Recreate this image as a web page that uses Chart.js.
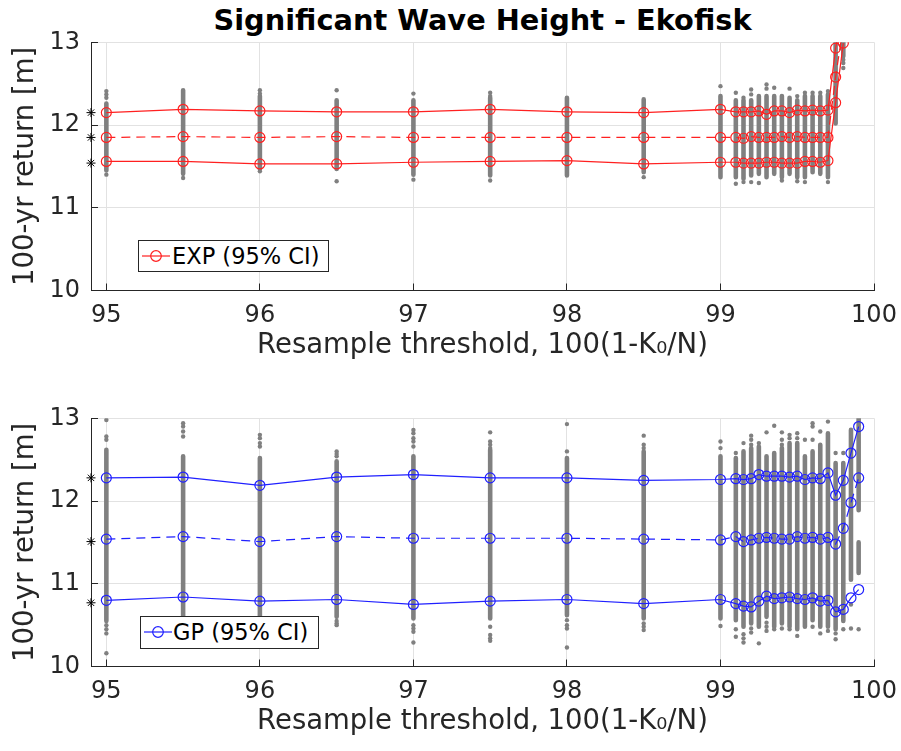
<!DOCTYPE html>
<html><head><meta charset="utf-8">
<script src="https://cdn.jsdelivr.net/npm/chart.js@4/dist/chart.umd.min.js"></script>
<style>
html,body{margin:0;padding:0;background:#fff;overflow:hidden;}
#wrap{position:relative;width:901px;height:751px;font-family:"DejaVu Sans";}
canvas{position:absolute;left:0;}
#title{position:absolute;left:0;top:6px;width:965px;text-align:center;font:bold 28.8px/28px "DejaVu Sans";color:#000;white-space:nowrap;}
.legend{position:absolute;box-sizing:border-box;background:#fff;border:1px solid #262626;}
.legend svg{position:absolute;left:2px;top:0;}
.legend span{position:absolute;top:0;font:22.5px/30px "DejaVu Sans";color:#000;white-space:nowrap;}
</style></head>
<body><div id="wrap">
<div id="title">Significant Wave Height - Ekofisk</div>
<canvas id="c1" width="901" height="376" style="top:0"></canvas>
<canvas id="c2" width="901" height="375" style="top:376px"></canvas>
<div class="legend" style="left:138px;top:240px;width:191px;height:32px;">
<svg width="30" height="30"><line x1="1" y1="15" x2="29" y2="15" stroke="#ff2020" stroke-width="1.2"/><circle cx="15" cy="15" r="5.3" fill="none" stroke="#ff2020" stroke-width="1.2"/></svg>
<span style="left:33px">EXP (95% CI)</span></div>
<div class="legend" style="left:140px;top:616px;width:179px;height:33px;">
<svg width="30" height="30"><line x1="1" y1="15" x2="29" y2="15" stroke="#2020ff" stroke-width="1.2"/><circle cx="15" cy="15" r="5.3" fill="none" stroke="#2020ff" stroke-width="1.2"/></svg>
<span style="left:32px">GP (95% CI)</span></div>
</div>
<script>
// ---- tick labels ----
const xTicks = [95, 96, 97, 98, 99, 100];
const yTicks = [10, 11, 12, 13];

// ---- EXP (top panel) ----
const xExp = [95,95.5,96,96.5,97,97.5,98,98.5,99,99.1,99.15,99.2,99.25,99.3,99.35,99.4,99.45,99.5,99.55,99.6,99.65,99.7,99.75,99.8];
const expUpper = [12.15,12.19,12.17,12.16,12.16,12.19,12.16,12.15,12.19,12.16,12.16,12.16,12.17,12.13,12.17,12.17,12.15,12.18,12.17,12.18,12.17,12.18,12.93,13.4];
const expMid   = [11.85,11.86,11.85,11.86,11.85,11.85,11.85,11.85,11.85,11.85,11.84,11.86,11.85,11.85,11.85,11.86,11.85,11.86,11.85,11.85,11.85,11.85,12.58,13.2];
const expLower = [11.56,11.56,11.53,11.53,11.55,11.56,11.57,11.53,11.55,11.55,11.54,11.54,11.54,11.55,11.55,11.54,11.54,11.54,11.56,11.56,11.55,11.57,12.27,12.99];
const expRef = [12.15, 11.85, 11.54];
const expSpread = [[[11.45,12.26]],[[11.41,12.42]],[[11.47,12.35]],[[11.47,12.30]],[[11.40,12.30]],[[11.39,12.33]],[[11.39,12.33]],[[11.43,12.31]],[[11.37,12.35]],
  [[11.37,12.30]],[[11.35,12.30]],[[11.39,12.30]],[[11.41,12.35]],[[11.37,12.35]],[[11.41,12.35]],[[11.37,12.35]],[[11.41,12.33]],[[11.37,12.30]],[[11.37,12.35]],[[11.43,12.35]],[[11.41,12.35]],[[11.37,12.37]],[[12.02,13.0]],[[12.83,13.0]]];
const expOutliers = [[12.41,12.37,12.33,11.40],[11.36],[12.42,12.38,11.44],[12.42,11.32],[12.38,11.34],[12.39,12.35,11.33],[],[11.37],[12.47],
  [12.39,11.29],[12.33,11.31],[12.43,12.37,11.31],[11.30],[12.49,12.44],[12.45],[11.33],[12.44],[12.35,11.32],[12.39,11.31],[12.39],[12.39],[12.41,11.31],[],[12.79,12.75,12.69]];

// ---- GP (bottom panel) ----
const xGp = [95,95.5,96,96.5,97,97.5,98,98.5,99,99.1,99.15,99.2,99.25,99.3,99.35,99.4,99.45,99.5,99.55,99.6,99.65,99.7,99.75,99.8,99.85,99.9];
const gpUpper = [12.28,12.29,12.19,12.29,12.32,12.28,12.28,12.25,12.26,12.27,12.26,12.27,12.32,12.30,12.30,12.30,12.29,12.30,12.26,12.28,12.27,12.34,12.07,12.25,12.58,12.90];
const gpMid   = [11.54,11.57,11.51,11.57,11.55,11.55,11.55,11.54,11.53,11.57,11.51,11.53,11.55,11.56,11.55,11.54,11.54,11.57,11.55,11.56,11.54,11.56,11.48,11.67,11.98,12.28];
const gpLower = [10.80,10.84,10.79,10.81,10.75,10.79,10.81,10.76,10.81,10.76,10.73,10.72,10.79,10.85,10.82,10.83,10.84,10.82,10.81,10.83,10.79,10.80,10.66,10.69,10.83,10.93];
const gpRef = [12.28, 11.51, 10.77];
const gpSpread = [[[10.55,12.62]],[[10.50,12.54]],[[10.50,12.52]],[[10.60,12.48]],[[10.58,12.54]],[[10.58,12.62]],[[10.62,12.52]],[[10.58,12.60]],[[10.58,12.54]],
  [[10.56,12.52]],[[10.48,12.60]],[[10.52,12.64]],[[10.48,12.66]],[[10.60,12.54]],[[10.48,12.58]],[[10.52,12.64]],[[10.48,12.70]],[[10.45,12.70]],[[10.48,12.54]],[[10.56,12.60]],[[10.48,12.68]],[[10.48,12.82]],
  [[10.45,12.46]],[[10.55,12.46]],[[11.05,12.86]],[[11.89,13.0],[11.13,11.50]]];
const gpOutliers = [[12.98,12.78,12.74,10.50,10.45,10.40,10.16],[12.94,12.90,12.84,12.78],[12.80,12.76,12.70,12.66],[12.60,12.57,12.54,10.55,10.52,10.50],
  [12.86,12.82,12.76,12.72,12.66,10.50,10.46,10.42,10.29],[12.83,12.72,12.68,12.64,10.48,10.38,10.34,10.31],[12.93,12.60,10.56,10.50,10.46,10.23],[12.79,12.68,12.64,10.52,10.48,10.44],[12.72,12.64,10.49],
  [12.58,10.45,10.36],[12.70,10.39,10.34,10.29],[12.79,12.74,12.68,10.46,10.41],[12.70,10.28],[12.83,10.53,10.48,10.43],[12.91,10.45],[12.83,12.74,12.68,10.46],[12.80,12.76,10.45],[12.82,12.76,10.37],[12.74],[12.94,12.90,12.74,10.48],[12.84,10.40],[12.96,10.43],
  [12.58,10.40,10.33],[12.58,10.45],[10.46,10.75],[10.45]];

const X_MIN = 94.9, X_MAX = 100, Y_MIN = 10, Y_MAX = 13;
const FONT = 'DejaVu Sans';
const AXC = '#262626';
const GRAY = '#808080';
const TICK_IN = 7;

function pts(xs, ys){ return xs.map((x,i)=>({x, y: ys[i]})); }
function spreadPts(xs, spreads){ const d=[]; xs.forEach((x,i)=>spreads[i].forEach(([lo,hi])=>{ d.push({x,y:lo},{x,y:hi},{x,y:null}); })); return d; }
function outPts(xs, outs){ const d=[]; xs.forEach((x,i)=>outs[i].forEach(v=>d.push({x,y:v}))); return d; }

function build(canvasId, H, xs, up, mid, lo, ref, spread, outs, color, titleBottom){
  const ciLine = (data, dash) => ({type:'line', data, borderColor:color, borderWidth:1.2, borderDash:dash,
      pointStyle:'circle', pointRadius:5, pointBorderColor:color, pointBorderWidth:1.2, pointBackgroundColor:'rgba(0,0,0,0)', fill:false, order:1});
  new Chart(document.getElementById(canvasId), {
    type:'line',
    data:{datasets:[
      ciLine(pts(xs, up), []),
      ciLine(pts(xs, mid), [9,6]),
      ciLine(pts(xs, lo), []),
      {type:'scatter', data: ref.map(v=>({x:X_MIN, y:v})), pointStyle:'star', pointRadius:4.5, borderColor:'#000', borderWidth:1, clip:false, order:0},
      {type:'scatter', data: outPts(xs, outs), pointRadius:2.2, pointBorderWidth:0, backgroundColor:GRAY, borderColor:GRAY, order:3},
      {type:'line', data: spreadPts(xs, spread), borderColor:GRAY, borderWidth:4.6, borderCapStyle:'round', pointRadius:0, spanGaps:false, fill:false, order:4}
    ]},
    options:{
      animation:false, responsive:false, maintainAspectRatio:false, devicePixelRatio:1,
      events:[],
      layout:{padding:{left:0, right:27, top:42.3, bottom:0}},
      plugins:{legend:{display:false}, tooltip:{enabled:false}, title:{display:false}},
      scales:{
        x:{type:'linear', min:X_MIN, max:X_MAX,
          afterBuildTicks: s => { s.ticks = xTicks.map(v=>({value:v})); },
          afterFit: s => { s.height = H - 290.5; s.paddingLeft = 0; s.paddingRight = 0; },
          grid:{color:'#e2e2e2', lineWidth:1, drawTicks:true, tickLength:-TICK_IN, tickColor:AXC},
          border:{color:AXC, width:1},
          ticks:{font:{family:FONT, size:24}, color:AXC, padding:11 + TICK_IN, maxRotation:0, autoSkip:false, callback:v=>String(v)},
          title:{display:true, text:'Resample threshold, 100(1-K\u2080/N)', font:{family:FONT, size:27.5}, color:AXC, padding:{top:0, bottom:titleBottom}}
        },
        y:{type:'linear', min:Y_MIN, max:Y_MAX,
          afterBuildTicks: s => { s.ticks = yTicks.map(v=>({value:v})); },
          afterFit: s => { s.width = 91; s.paddingTop = 0; s.paddingBottom = 0; },
          grid:{color:'#e2e2e2', lineWidth:1, drawTicks:true, tickLength:-TICK_IN, tickColor:AXC},
          border:{color:AXC, width:1},
          ticks:{font:{family:FONT, size:24}, color:AXC, padding:11 + TICK_IN, callback:v=>String(v)},
          title:{display:true, text:'100-yr return [m]', font:{family:FONT, size:27.5}, color:AXC, padding:{top:9, bottom:0}}
        }
      }
    }
  });
}

build('c1', 376, xExp, expUpper, expMid, expLower, expRef, expSpread, expOutliers, '#ff2020', 13.2);
build('c2', 375, xGp, gpUpper, gpMid, gpLower, gpRef, gpSpread, gpOutliers, '#2020ff', 12.2);
</script>
</body></html>
